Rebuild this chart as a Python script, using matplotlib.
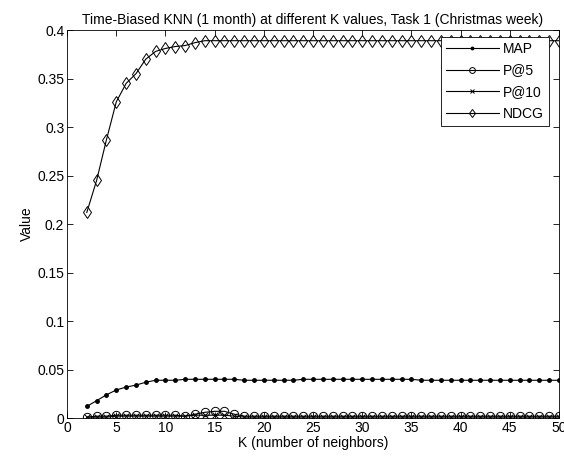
import numpy as np
import matplotlib
matplotlib.use("Agg")
import matplotlib.pyplot as plt

plt.rcParams['font.family'] = ['Liberation Sans', 'DejaVu Sans']
plt.rcParams['font.size'] = 10

k = list(range(2, 51))

ndcg = [0.212, 0.245, 0.287, 0.326, 0.345, 0.355, 0.370, 0.378, 0.381, 0.383,
        0.384, 0.387, 0.389, 0.389, 0.389, 0.389, 0.389, 0.389, 0.389, 0.389,
        0.389, 0.389, 0.389, 0.389, 0.389, 0.389, 0.389, 0.389, 0.389, 0.389,
        0.389, 0.389, 0.389, 0.389, 0.389, 0.389, 0.389, 0.389, 0.389, 0.389,
        0.389, 0.389, 0.389, 0.389, 0.389, 0.389, 0.389, 0.389, 0.389]
map_ = [0.012, 0.018, 0.024, 0.029, 0.032, 0.034, 0.037, 0.039, 0.039, 0.039,
        0.040, 0.040, 0.040, 0.040, 0.040, 0.040, 0.039, 0.039, 0.039, 0.039,
        0.039, 0.039, 0.040, 0.040, 0.040, 0.040, 0.040, 0.040, 0.040, 0.040,
        0.040, 0.040, 0.040, 0.040, 0.039, 0.039, 0.039, 0.039, 0.039, 0.039,
        0.039, 0.039, 0.039, 0.039, 0.039, 0.039, 0.039, 0.039, 0.039]
p5 = [0.001, 0.002, 0.002, 0.003, 0.003, 0.003, 0.003, 0.003, 0.003, 0.003,
      0.002, 0.004, 0.006, 0.007, 0.007, 0.004, 0.002, 0.002, 0.002, 0.002,
      0.002, 0.002, 0.002, 0.002, 0.002, 0.002, 0.002, 0.002, 0.002, 0.002,
      0.002, 0.002, 0.002, 0.002, 0.002, 0.002, 0.002, 0.002, 0.002, 0.002,
      0.002, 0.002, 0.002, 0.002, 0.002, 0.002, 0.002, 0.002, 0.002]
p10 = [0.001, 0.001, 0.001, 0.002, 0.002, 0.002, 0.002, 0.002, 0.002, 0.002,
       0.002, 0.003, 0.003, 0.003, 0.003, 0.002, 0.001, 0.001, 0.001, 0.001,
       0.001, 0.001, 0.001, 0.001, 0.001, 0.001, 0.001, 0.001, 0.001, 0.001,
       0.001, 0.001, 0.001, 0.001, 0.001, 0.001, 0.001, 0.001, 0.001, 0.001,
       0.001, 0.001, 0.001, 0.001, 0.001, 0.001, 0.001, 0.001, 0.001]

fig = plt.figure(figsize=(5.64, 4.62), dpi=100)
ax = fig.add_axes([0.119, 0.095, 0.872, 0.840])

ax.plot(k, map_, color='k', lw=0.8, marker='.', ms=5, label='MAP')
ax.plot(k, p5, color='k', lw=0.8, marker='o', ms=6, mfc='none', mew=0.7, label='P@5')
ax.plot(k, p10, color='k', lw=0.8, marker='x', ms=4, mew=0.7, label='P@10')
ax.plot(k, ndcg, color='k', lw=0.8, marker='d', ms=6.5, mfc='none', mew=0.7, label='NDCG')

ax.set_xlim(0, 50)
ax.set_ylim(0, 0.4)
ax.set_xticks(np.arange(0, 51, 5))
ax.set_yticks(np.arange(0, 0.41, 0.05))
ax.set_yticklabels(['0', '0.05', '0.1', '0.15', '0.2', '0.25', '0.3', '0.35', '0.4'])
ax.tick_params(direction='in', top=True, right=True, length=4, width=0.6,
               labelsize=10, pad=2)
for s in ax.spines.values():
    s.set_linewidth(0.6)

ax.set_xlabel('K (number of neighbors)', fontsize=10, labelpad=1)
ax.set_ylabel('Value', fontsize=10, labelpad=2)
ax.set_title('Time-Biased KNN (1 month) at different K values, Task 1 (Christmas week)',
             fontsize=10, pad=4)

leg = ax.legend(loc='upper right', bbox_to_anchor=(0.979, 0.982), borderaxespad=0,
                fontsize=10, fancybox=False, edgecolor='k', framealpha=1,
                handlelength=3.8, markerscale=0.7, borderpad=0.35,
                labelspacing=0.55, handletextpad=0.3)
leg.get_frame().set_linewidth(0.6)

fig.savefig('out.png', dpi=100)
